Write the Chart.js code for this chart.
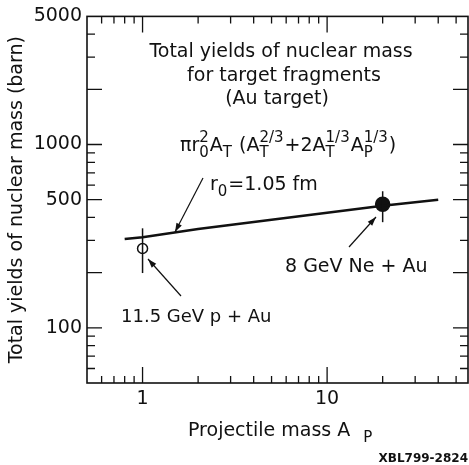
<!DOCTYPE html>
<html>
<head>
<meta charset="utf-8">
<script src="https://cdn.jsdelivr.net/npm/chart.js@4.4.0/dist/chart.umd.min.js"></script>
<style>
  html, body { margin: 0; padding: 0; background: #fff; }
</style>
</head>
<body>
<canvas id="chart" width="469" height="465"></canvas>
<script>
// curve pi r0^2 A_T (...), x = projectile mass A_P, y = barn
const curveX = [0.8, 1, 2, 5, 10, 20, 40];
const curveY = [305, 312, 346, 389, 424, 463, 500];
// measured points (11.5 GeV p+Au, 8 GeV Ne+Au)
const pointX = [1, 20];
const pointY = [271, 472];
const errLow = [199, 377];
const errHigh = [349, 556];
const pointFilled = [false, true];
// tick labels
const xTickLabels = [1, 10];
const yTickLabels = [100, 500, 1000, 5000];

const FONT = '"DejaVu Sans", sans-serif';
const FS = 19;
const INK = '#111';

function minorValues(min, max) {
  const out = [];
  for (let e = Math.floor(Math.log10(min)); e <= Math.ceil(Math.log10(max)); e++) {
    for (let m = 1; m <= 9; m++) {
      const v = m * Math.pow(10, e);
      if (v > min * 1.0001 && v < max * 0.9999) out.push({ v, m });
    }
  }
  return out;
}

function arrow(ctx, x1, y1, x2, y2) {
  ctx.beginPath();
  ctx.moveTo(x1, y1);
  ctx.lineTo(x2, y2);
  ctx.stroke();
  const a = Math.atan2(y2 - y1, x2 - x1);
  ctx.beginPath();
  ctx.moveTo(x2, y2);
  ctx.lineTo(x2 - 9 * Math.cos(a) + 3 * Math.sin(a), y2 - 9 * Math.sin(a) - 3 * Math.cos(a));
  ctx.lineTo(x2 - 9 * Math.cos(a) - 3 * Math.sin(a), y2 - 9 * Math.sin(a) + 3 * Math.cos(a));
  ctx.closePath();
  ctx.fill();
}

// text with stacked sub/superscripts: [base, sub, sup]
function drawRich(ctx, parts, x, y, size) {
  parts.forEach(([base, sub, sup]) => {
    ctx.font = size + 'px ' + FONT;
    ctx.fillText(base, x, y);
    x += ctx.measureText(base).width;
    let w = 0;
    ctx.font = Math.round(size * 0.8) + 'px ' + FONT;
    if (sub) { ctx.fillText(sub, x, y + size * 0.3); w = ctx.measureText(sub).width; }
    if (sup) { ctx.fillText(sup, x, y - size * 0.48); w = Math.max(w, ctx.measureText(sup).width); }
    x += w + 1;
  });
}

const decor = {
  id: 'decor',
  afterDatasetsDraw(chart) {
    const { ctx, chartArea: a, scales: { x, y } } = chart;
    ctx.save();
    ctx.strokeStyle = INK;
    ctx.fillStyle = INK;

    // error bars
    ctx.lineWidth = 1.5;
    pointX.forEach((px, i) => {
      const cx = x.getPixelForValue(px);
      ctx.beginPath();
      ctx.moveTo(cx, y.getPixelForValue(errHigh[i]));
      ctx.lineTo(cx, y.getPixelForValue(errLow[i]));
      ctx.stroke();
    });

    // frame
    ctx.lineWidth = 1.6;
    ctx.strokeRect(a.left, a.top, a.right - a.left, a.bottom - a.top);

    // inward ticks on all four sides
    ctx.lineWidth = 1.3;
    minorValues(x.min, x.max).forEach(({ v, m }) => {
      const px = x.getPixelForValue(v);
      const len = m === 1 ? 16 : 7;
      ctx.beginPath();
      ctx.moveTo(px, a.bottom); ctx.lineTo(px, a.bottom - len);
      ctx.moveTo(px, a.top); ctx.lineTo(px, a.top + len);
      ctx.stroke();
    });
    minorValues(y.min, y.max).forEach(({ v, m }) => {
      const py = y.getPixelForValue(v);
      const len = (m === 1 || m === 2 || m === 5) ? 15 : 8;
      ctx.beginPath();
      ctx.moveTo(a.left, py); ctx.lineTo(a.left + len, py);
      ctx.moveTo(a.right, py); ctx.lineTo(a.right - len, py);
      ctx.stroke();
    });

    // text block
    ctx.textBaseline = 'alphabetic';
    ctx.textAlign = 'center';
    ctx.font = FS + 'px ' + FONT;
    ctx.fillText('Total yields of nuclear mass', 281, 57);
    ctx.fillText('for target fragments', 284, 81);
    ctx.fillText('(Au target)', 277, 104);

    ctx.textAlign = 'left';
    drawRich(ctx, [['\u03C0r', '0', '2'], ['A', 'T'], [' (A', 'T', '2/3'], ['+2A', 'T', '1/3'], ['A', 'P', '1/3'], [')']], 180, 151, FS);
    drawRich(ctx, [['r', '0'], ['=1.05 fm']], 210, 190, FS);

    ctx.font = FS + 'px ' + FONT;
    ctx.fillText('8 GeV Ne + Au', 285, 272);
    ctx.font = '18px ' + FONT;
    ctx.fillText('11.5 GeV p + Au', 121, 322);

    ctx.lineWidth = 1.2;
    arrow(ctx, 203, 178, 175, 232);
    arrow(ctx, 349, 247, 376, 217);
    arrow(ctx, 181, 296, 148, 259);

    // x title with subscript
    drawRich(ctx, [['Projectile mass A'], ['  ', 'P']], 188, 436, FS);

    ctx.textAlign = 'right';
    ctx.font = 'bold 12px "DejaVu Sans", sans-serif';
    ctx.fillText('XBL799-2824', 468, 462);
    ctx.restore();
  }
};

const tickFont = { family: FONT, size: FS };

new Chart(document.getElementById('chart'), {
  type: 'scatter',
  data: {
    datasets: [
      {
        data: curveX.map((v, i) => ({ x: v, y: curveY[i] })),
        showLine: true,
        borderColor: INK,
        borderWidth: 2.6,
        pointRadius: 0,
        tension: 0
      },
      {
        data: pointX.map((v, i) => ({ x: v, y: pointY[i] })),
        showLine: false,
        pointRadius: [5, 7],
        pointBackgroundColor: pointFilled.map(f => f ? INK : '#fff'),
        pointBorderColor: INK,
        pointBorderWidth: 1.5
      }
    ]
  },
  options: {
    responsive: false,
    animation: false,
    devicePixelRatio: 1,
    layout: { autoPadding: false, padding: { top: 16, right: 1, left: 0, bottom: 0 } },
    plugins: { legend: { display: false }, tooltip: { enabled: false } },
    scales: {
      x: {
        type: 'logarithmic',
        min: 0.5,
        max: 58,
        grid: { display: false, drawTicks: false },
        border: { display: false },
        afterBuildTicks: s => { s.ticks = xTickLabels.map(v => ({ value: v })); },
        afterFit: s => { s.height = 82; s.paddingLeft = 0; s.paddingRight = 0; },
        ticks: {
          color: INK,
          font: tickFont,
          padding: 5,
          maxRotation: 0,
          autoSkip: false,
          callback: v => String(v)
        }
      },
      y: {
        type: 'logarithmic',
        min: 50,
        max: 5000,
        grid: { display: false, drawTicks: false },
        border: { display: false },
        afterBuildTicks: s => { s.ticks = yTickLabels.map(v => ({ value: v })); },
        afterFit: s => { s.width = 87; },
        title: {
          display: true,
          text: 'Total yields of nuclear mass (barn)',
          color: INK,
          font: { family: FONT, size: FS },
          padding: { top: 6, bottom: 0 }
        },
        ticks: {
          color: INK,
          font: tickFont,
          padding: 5,
          autoSkip: false,
          callback: v => String(v)
        }
      }
    }
  },
  plugins: [decor]
});
</script>
</body>
</html>
